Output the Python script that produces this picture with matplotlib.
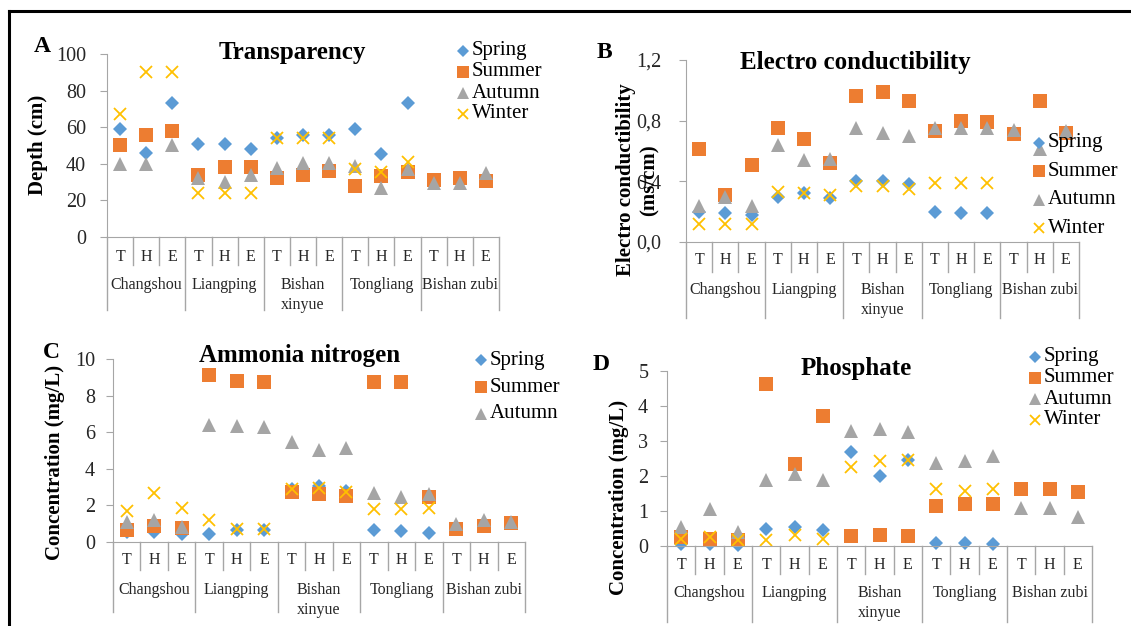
import numpy as np
import matplotlib.pyplot as plt
from matplotlib.lines import Line2D

plt.rcParams['font.family'] = ['Liberation Serif', 'DejaVu Serif']

# categories
sites = ['Changshou', 'Liangping', 'Bishan\nxinyue', 'Tongliang', 'Bishan zubi']
points = ['T', 'H', 'E']
nan = np.nan

# A - Transparency (cm)
spring_A = [59, 46, 73, 51, 51, 48, 54, 55.5, 55.5, 59, 45.5, 73, nan, nan, nan]
summer_A = [50, 56, 58, 34, 38, 38, 32, 34, 36, 28, 33.5, 35.5, 31, 32, 30.5]
autumn_A = [40, 40, 50, 32, 30, 34, 37.5, 40.5, 40.5, 39, 27, 37, 29.5, 29.5, 35]
winter_A = [67, 90, 90, 24, 24, 24, 54, 54, 54, 37, 35.5, 41, nan, nan, nan]

# B - Electro conductibility (ms/cm)
spring_B = [0.20, 0.19, 0.18, 0.30, 0.32, 0.29, 0.40, 0.40, 0.38, 0.20, 0.19, 0.19, nan, nan, nan]
summer_B = [0.61, 0.31, 0.51, 0.75, 0.68, 0.52, 0.96, 0.99, 0.93, 0.73, 0.80, 0.79, 0.71, 0.93, 0.72]
autumn_B = [0.24, 0.30, 0.24, 0.64, 0.54, 0.55, 0.75, 0.72, 0.70, 0.75, 0.75, 0.75, 0.74, 0.61, 0.73]
winter_B = [0.12, 0.12, 0.12, 0.33, 0.32, 0.31, 0.37, 0.37, 0.35, 0.39, 0.39, 0.39, nan, nan, nan]

# C - Ammonia nitrogen (mg/L)
spring_C = [0.55, 0.55, 0.42, 0.42, 0.68, 0.68, 2.9, 3.05, 2.8, 0.68, 0.58, 0.49, nan, nan, nan]
summer_C = [0.68, 0.88, 0.77, 9.1, 8.8, 8.75, 2.75, 2.6, 2.5, 8.75, 8.75, 2.45, 0.72, 0.9, 1.05]
autumn_C = [1.1, 1.2, 0.8, 6.4, 6.35, 6.3, 5.45, 5.05, 5.15, 2.7, 2.45, 2.6, 1.0, 1.2, 1.1]
winter_C = [1.7, 2.7, 1.85, 1.2, 0.72, 0.72, 2.9, 2.95, 2.75, 1.8, 1.8, 1.85, nan, nan, nan]

# D - Phosphate (mg/L)
spring_D = [0.07, 0.07, 0.02, 0.5, 0.55, 0.46, 2.7, 2.0, 2.45, 0.08, 0.08, 0.06, nan, nan, nan]
summer_D = [0.26, 0.19, 0.16, 4.62, 2.33, 3.72, 0.29, 0.31, 0.29, 1.15, 1.2, 1.21, 1.64, 1.62, 1.55]
autumn_D = [0.55, 1.05, 0.4, 1.9, 2.07, 1.88, 3.3, 3.33, 3.26, 2.37, 2.43, 2.58, 1.1, 1.08, 0.82]
winter_D = [0.19, 0.26, 0.16, 0.16, 0.31, 0.19, 2.27, 2.43, 2.47, 1.62, 1.56, 1.64, nan, nan, nan]

W, H = 1131, 626
fig = plt.figure(figsize=(W / 100, H / 100), dpi=100)

styles = {
    'Spring': dict(marker='D', color='#5B9BD5', ms=7.5, mew=0),
    'Summer': dict(marker='s', color='#ED7D31', ms=10.5, mew=0),
    'Autumn': dict(marker='^', color='#A5A5A5', ms=10.5, mew=0),
    'Winter': dict(marker='x', color='#FFC000', ms=9, mew=1.3),
}
grey = '#A6A6A6'


def panel(x0, x1, ytop, ybot, series, ylim, yticks, yticklabels,
          inner_d, group_d, t_y, g_y, pad):
    ax = fig.add_axes([x0 / W, 1 - ybot / H, (x1 - x0) / W, (ybot - ytop) / H])
    h = ybot - ytop
    n = len(sites) * len(points)
    xs = np.arange(n)
    for name, vals in series:
        ax.plot(xs, vals, linestyle='none', clip_on=False, **styles[name])
    ax.set_xlim(-0.5, n - 0.5)
    ax.set_ylim(*ylim)
    ax.set_yticks(yticks)
    ax.set_yticklabels(yticklabels, fontsize=14.5, color='#262626')
    ax.tick_params(axis='y', direction='out', length=5, color=grey, pad=pad)
    ax.set_xticks([])
    for s in ['top', 'right']:
        ax.spines[s].set_visible(False)
    for s in ['left', 'bottom']:
        ax.spines[s].set_color(grey)
    tr = ax.get_xaxis_transform()
    # separators of the two-level category axis
    for i in range(n + 1):
        xb = i - 0.5
        d = group_d if i % 3 == 0 else inner_d
        ax.plot([xb, xb], [0, -d / h], color=grey, lw=1, transform=tr, clip_on=False)
    for i in range(n):
        ax.text(i, -(t_y - ybot) / h, points[i % 3], transform=tr,
                ha='center', va='center', fontsize=11.5, color='#262626')
    for g, name in enumerate(sites):
        for k, line in enumerate(name.split('\n')):
            ax.text(g * 3 + 1, -(g_y + k * 20 - ybot) / h, line, transform=tr,
                    ha='center', va='center', fontsize=11.5, color='#262626')
    return ax


def legend(labels, xm, y0, dy):
    for i, lab in enumerate(labels):
        yy = 1 - (y0 + i * dy) / H
        st = dict(styles[lab])
        st['ms'] = st['ms'] * 0.85
        fig.add_artist(Line2D([xm / W], [yy], linestyle='none', **st))
        fig.text((xm + 9) / W, yy, lab, fontsize=15, va='center', ha='left')


def label(x, y, s, size=15, rot=90):
    fig.text(x / W, 1 - y / H, s, fontsize=size, fontweight='bold', rotation=rot,
             ha='center', va='center', multialignment='center')


# A
panel(107, 499, 54, 237,
      [('Spring', spring_A), ('Summer', summer_A), ('Autumn', autumn_A), ('Winter', winter_A)],
      (0, 100), np.arange(0, 101, 20), [str(v) for v in range(0, 101, 20)],
      28, 73, 257, 285, 10)
label(292, 52, 'Transparency', 18, 0)
label(42, 46, 'A', 17, 0)
label(38, 145, 'Depth (cm)')
legend(['Spring', 'Summer', 'Autumn', 'Winter'], 463, 51, 21)

# B
panel(686, 1079, 60, 242,
      [('Spring', spring_B), ('Summer', summer_B), ('Autumn', autumn_B), ('Winter', winter_B)],
      (0, 1.2), [0, 0.4, 0.8, 1.2], ['0,0', '0,4', '0,8', '1,2'],
      30, 76, 260, 290, 13)
label(855, 62, 'Electro conductibility', 18, 0)
label(604, 53, 'B', 17, 0)
label(638, 180, 'Electro conductibility\n(ms/cm)')
legend(['Spring', 'Summer', 'Autumn', 'Winter'], 1039, 143, 28.5)

# C
panel(113, 525, 359, 542,
      [('Spring', spring_C), ('Summer', summer_C), ('Autumn', autumn_C), ('Winter', winter_C)],
      (0, 10), np.arange(0, 11, 2), [str(v) for v in range(0, 11, 2)],
      28, 70, 560, 590, 8)
label(300, 356, 'Ammonia nitrogen', 18, 0)
label(51, 352, 'C', 17, 0)
label(55, 462, 'Concentration (mg/L)')
legend(['Spring', 'Summer', 'Autumn'], 481, 360, 27)

# D
panel(667, 1092, 371, 546,
      [('Spring', spring_D), ('Summer', summer_D), ('Autumn', autumn_D), ('Winter', winter_D)],
      (0, 5), np.arange(0, 6, 1), [str(v) for v in range(0, 6)],
      28, 76, 565, 593, 8.5)
label(856, 368, 'Phosphate', 18, 0)
label(601, 365, 'D', 17, 0)
label(619, 497, 'Concentration (mg/L)')
legend(['Spring', 'Summer', 'Autumn', 'Winter'], 1035, 357, 21)

# outer frame (top and left edges)
fig.add_artist(Line2D([8.5 / W, 8.5 / W], [0, 1 - 11 / H], color='black', lw=2.2))
fig.add_artist(Line2D([8.5 / W, 1], [1 - 11 / H, 1 - 11 / H], color='black', lw=2.2))

fig.savefig('out.png', dpi=100)
